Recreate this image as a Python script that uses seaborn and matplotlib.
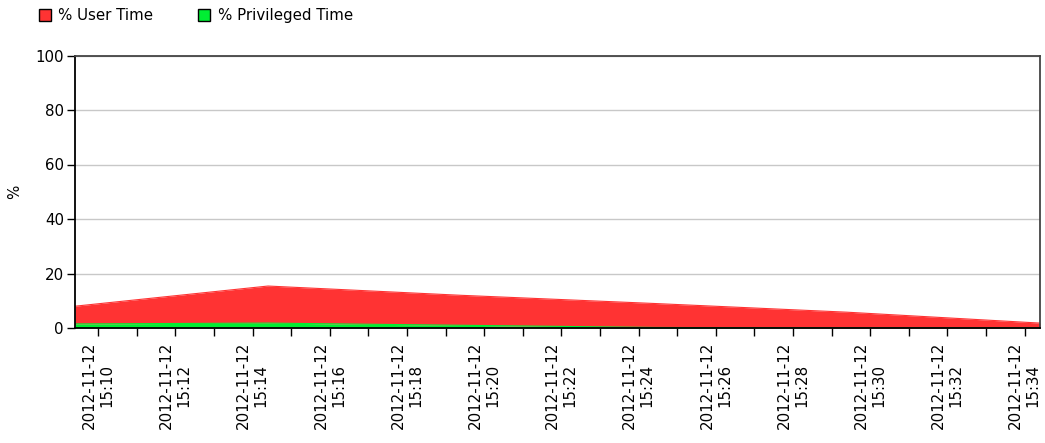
import numpy as np
import pandas as pd
import matplotlib
matplotlib.use("Agg")
import matplotlib.pyplot as plt
import matplotlib.dates as mdates
from matplotlib.patches import Patch
import seaborn as sns

# ---- data ----
times = ["2012-11-12 15:09:24", "2012-11-12 15:14:24", "2012-11-12 15:19:24",
         "2012-11-12 15:24:24", "2012-11-12 15:29:24", "2012-11-12 15:34:24"]
privileged = [1.5, 1.8, 1.0, 0.2, 0.0, 0.0]
user = [6.5, 13.6, 11.0, 8.8, 5.8, 1.8]
series_names = ["% User Time", "% Privileged Time"]
colors = ["#FF3333", "#00EE33"]
y_ticks = [0, 20, 40, 60, 80, 100]

sns.set_style("white")
plt.rcParams['font.family'] = ['DejaVu Sans']
plt.rcParams['text.color'] = 'black'
plt.rcParams['axes.labelcolor'] = 'black'
plt.rcParams['xtick.color'] = 'black'
plt.rcParams['ytick.color'] = 'black'

df = pd.DataFrame({"time": pd.to_datetime(times),
                   "priv": privileged, "user": user})
df["total"] = df["priv"] + df["user"]

fig = plt.figure(figsize=(10.45, 4.43), dpi=100)
ax = fig.add_axes([75/1045, 1 - 328/443, (1040-75)/1045, (328-55.5)/443])

x = mdates.date2num(df["time"])
ax.fill_between(x, 0, df["priv"], color=colors[1], linewidth=0)
ax.fill_between(x, df["priv"], df["total"], color=colors[0], linewidth=0)
sns.lineplot(x=x, y=df["total"].values, ax=ax, color=colors[0], linewidth=0.8)
sns.lineplot(x=x, y=df["priv"].values, ax=ax, color=colors[1], linewidth=0.8)

ax.set_xlim(x[0], x[-1])
ax.set_ylim(0, 100)
ax.set_yticks(y_ticks)
ax.yaxis.grid(True, color="#c8c8c8", linewidth=1)
ax.set_axisbelow(True)

ax.xaxis.set_major_locator(mdates.MinuteLocator(byminute=range(0, 60, 2)))
ax.xaxis.set_minor_locator(mdates.MinuteLocator())
ax.xaxis.set_major_formatter(mdates.DateFormatter("%Y-%m-%d\n%H:%M"))
for lab in ax.get_xticklabels():
    lab.set_rotation(90)
    lab.set_ha("center")
    lab.set_va("top")
    lab.set_multialignment("center")

ax.tick_params(axis="both", which="both", direction="out", length=6, width=1,
               color="black", labelsize=10.8, bottom=True, left=True)
ax.tick_params(axis="x", pad=4)
ax.tick_params(axis="y", pad=2)

for s in ["left", "bottom"]:
    ax.spines[s].set_color("black")
    ax.spines[s].set_linewidth(1.3)
for s in ["top", "right"]:
    ax.spines[s].set_color("#444444")
    ax.spines[s].set_linewidth(1.3)

ax.set_ylabel("%", fontsize=10.8)
ax.yaxis.set_label_coords(-53/965, 0.5)

handles = [Patch(facecolor=colors[0], edgecolor="black", linewidth=1),
           Patch(facecolor=colors[1], edgecolor="black", linewidth=1)]
fig.legend(handles, series_names, loc="upper left", bbox_to_anchor=(28/1045, 1.005),
           ncol=2, frameon=False, fontsize=10.8, handlelength=0.8, handleheight=0.8,
           handletextpad=0.5, columnspacing=3.0, borderaxespad=0.3)

fig.savefig("out.png", dpi=100)
